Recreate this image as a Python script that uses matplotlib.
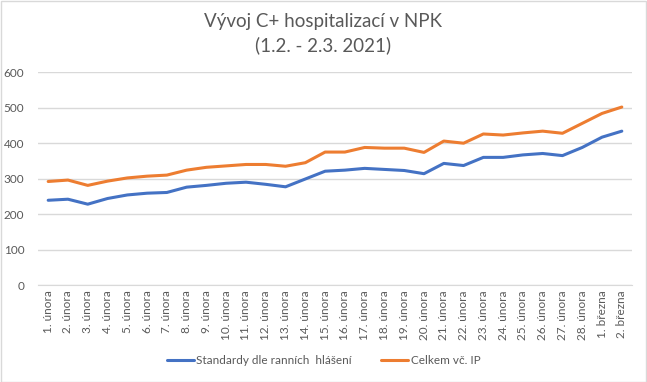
import matplotlib
matplotlib.use("Agg")
import matplotlib.pyplot as plt
from matplotlib.patches import Rectangle

plt.rcParams['font.family'] = ['Lato', 'DejaVu Sans']

categories = ["1. února", "2. února", "3. února", "4. února", "5. února", "6. února",
              "7. února", "8. února", "9. února", "10. února", "11. února", "12. února",
              "13. února", "14. února", "15. února", "16. února", "17. února", "18. února",
              "19. února", "20. února", "21. února", "22. února", "23. února", "24. února",
              "25. února", "26. února", "27. února", "28. února", "1. března", "2. března"]
standardy = [239, 242, 228, 244, 254, 259, 261, 276, 281, 287, 290, 284, 277, 299, 321,
             324, 329, 326, 323, 314, 343, 337, 360, 360, 367, 371, 365, 388, 417, 434]
celkem = [292, 296, 281, 293, 302, 307, 310, 324, 332, 336, 340, 340, 335, 345, 375,
          375, 388, 386, 386, 374, 406, 400, 426, 423, 429, 434, 428, 456, 484, 502]
yticks = [0, 100, 200, 300, 400, 500, 600]
series_names = ["Standardy dle ranních  hlášení", "Celkem vč. IP"]

W, H = 647, 382
fig = plt.figure(figsize=(W / 100, H / 100), dpi=100)
fig.patch.set_facecolor("white")
fig.add_artist(Rectangle((0.5 / W, 0.5 / H), 1 - 1.5 / W, 1 - 1.5 / H, transform=fig.transFigure,
                         fill=False, edgecolor="#d9d9d9", linewidth=1))

ax = fig.add_axes([38.3 / W, (H - 285) / H, 593.4 / W, 212.7 / H])
x = list(range(len(categories)))
ax.plot(x, standardy, color="#4472C4", linewidth=2.2, label=series_names[0],
        solid_joinstyle="round", solid_capstyle="round")
ax.plot(x, celkem, color="#ED7D31", linewidth=2.2, label=series_names[1],
        solid_joinstyle="round", solid_capstyle="round")

ax.set_xlim(-0.5, len(categories) - 0.5)
ax.set_ylim(0, 600)
ax.set_yticks(yticks)
ax.set_yticklabels([str(v) for v in yticks])
ax.set_xticks(x)
ax.set_xticklabels(categories, rotation=90)
ax.grid(axis="y", color="#d9d9d9", linewidth=1)
ax.set_axisbelow(True)
for s in ["top", "right", "left"]:
    ax.spines[s].set_visible(False)
ax.spines["bottom"].set_color("#d9d9d9")
ax.tick_params(axis="both", length=0, labelsize=8.5, colors="#595959", pad=4)
ax.tick_params(axis="y", pad=10)

fig.text(0.5, 1 - 22 / H, "Vývoj C+ hospitalizací v NPK", ha="center", va="center",
         fontsize=13.5, color="#595959")
fig.text(0.5, 1 - 45 / H, "(1.2. - 2.3. 2021)", ha="center", va="center",
         fontsize=13.5, color="#595959")

leg = fig.legend(loc="center", bbox_to_anchor=(0.5, 1 - 361 / H), ncol=2, frameon=False,
                 fontsize=8.5, handlelength=2.3, handletextpad=0.2, columnspacing=2.5)
for t in leg.get_texts():
    t.set_color("#595959")

fig.savefig("out.png", dpi=100, facecolor="white")
